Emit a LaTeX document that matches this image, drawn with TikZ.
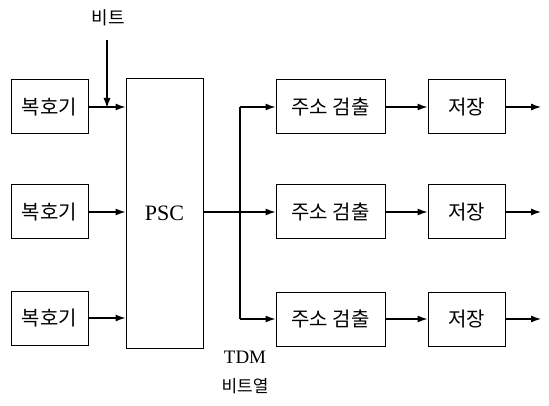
\documentclass[tikz,border=0pt]{standalone}
\usepackage{fontspec}
\setmainfont{Liberation Serif}
\newfontfamily\kor{Noto Sans CJK KR}
\usetikzlibrary{arrows.meta}

\begin{document}
\begin{tikzpicture}[x=1pt, y=-1pt, >={Latex[length=10pt, width=7pt]},
    box/.style={draw, line width=1pt, minimum height=54pt, inner sep=0pt, font=\kor\fontsize{20}{22}\selectfont},
    line/.style={line width=1.2pt}]
    \useasboundingbox (0,0) rectangle (549,406);

    % 복호기
    \node[box, minimum width=77pt] (dec1) at (49.5,107) {복호기};
    \node[box, minimum width=77pt] (dec2) at (49.5,212) {복호기};
    \node[box, minimum width=77pt] (dec3) at (49.5,318) {복호기};

    % PSC
    \node[draw, line width=1pt, minimum width=77pt, minimum height=269pt, inner sep=0pt,
          font=\fontsize{22}{24}\selectfont] (psc) at (164.5,213.5) {PSC};

    % 비트 입력
    \node[font=\kor\fontsize{18}{20}\selectfont] (bit) at (108,18) {비트};
    \coordinate (bittop) at (107,40);
    \coordinate (bitend) at (107,108);
    \draw[line, ->] (bittop) -- (bitend);

    \foreach \i in {1,2,3}
        \draw[line, ->] (dec\i.east) -- (dec\i.east -| psc.west);

    % 주소 검출, 저장
    \node[box, minimum width=109pt] (addr1) at (330.5,107) {주소 검출};
    \node[box, minimum width=109pt] (addr2) at (330.5,212) {주소 검출};
    \node[box, minimum width=109pt] (addr3) at (330.5,319) {주소 검출};
    \node[box, minimum width=77pt] (store1) at (466.5,107) {저장};
    \node[box, minimum width=77pt] (store2) at (466.5,212) {저장};
    \node[box, minimum width=77pt] (store3) at (466.5,319) {저장};

    % TDM 비트열 분기
    \coordinate (split) at (240,212);
    \draw[line, ->] (psc.east |- addr2.west) -- (addr2.west);
    \draw[line, ->] (split |- addr1.west) -- (addr1.west);
    \draw[line, ->] (split |- addr3.west) -- (addr3.west);
    \draw[line] (split |- addr1.west) -- (split |- addr3.west);

    \foreach \i in {1,2,3} {
        \coordinate (out\i) at (541,0 |- store\i.east);
        \draw[line, ->] (addr\i.east) -- (store\i.west);
        \draw[line, ->] (store\i.east) -- (out\i);
    }

    \node[font=\fontsize{19}{22}\selectfont] (tdm) at (245,357) {TDM};
    \node[font=\kor\fontsize{17}{20}\selectfont] (stream) at (245,386) {비트열};
\end{tikzpicture}
\end{document}
